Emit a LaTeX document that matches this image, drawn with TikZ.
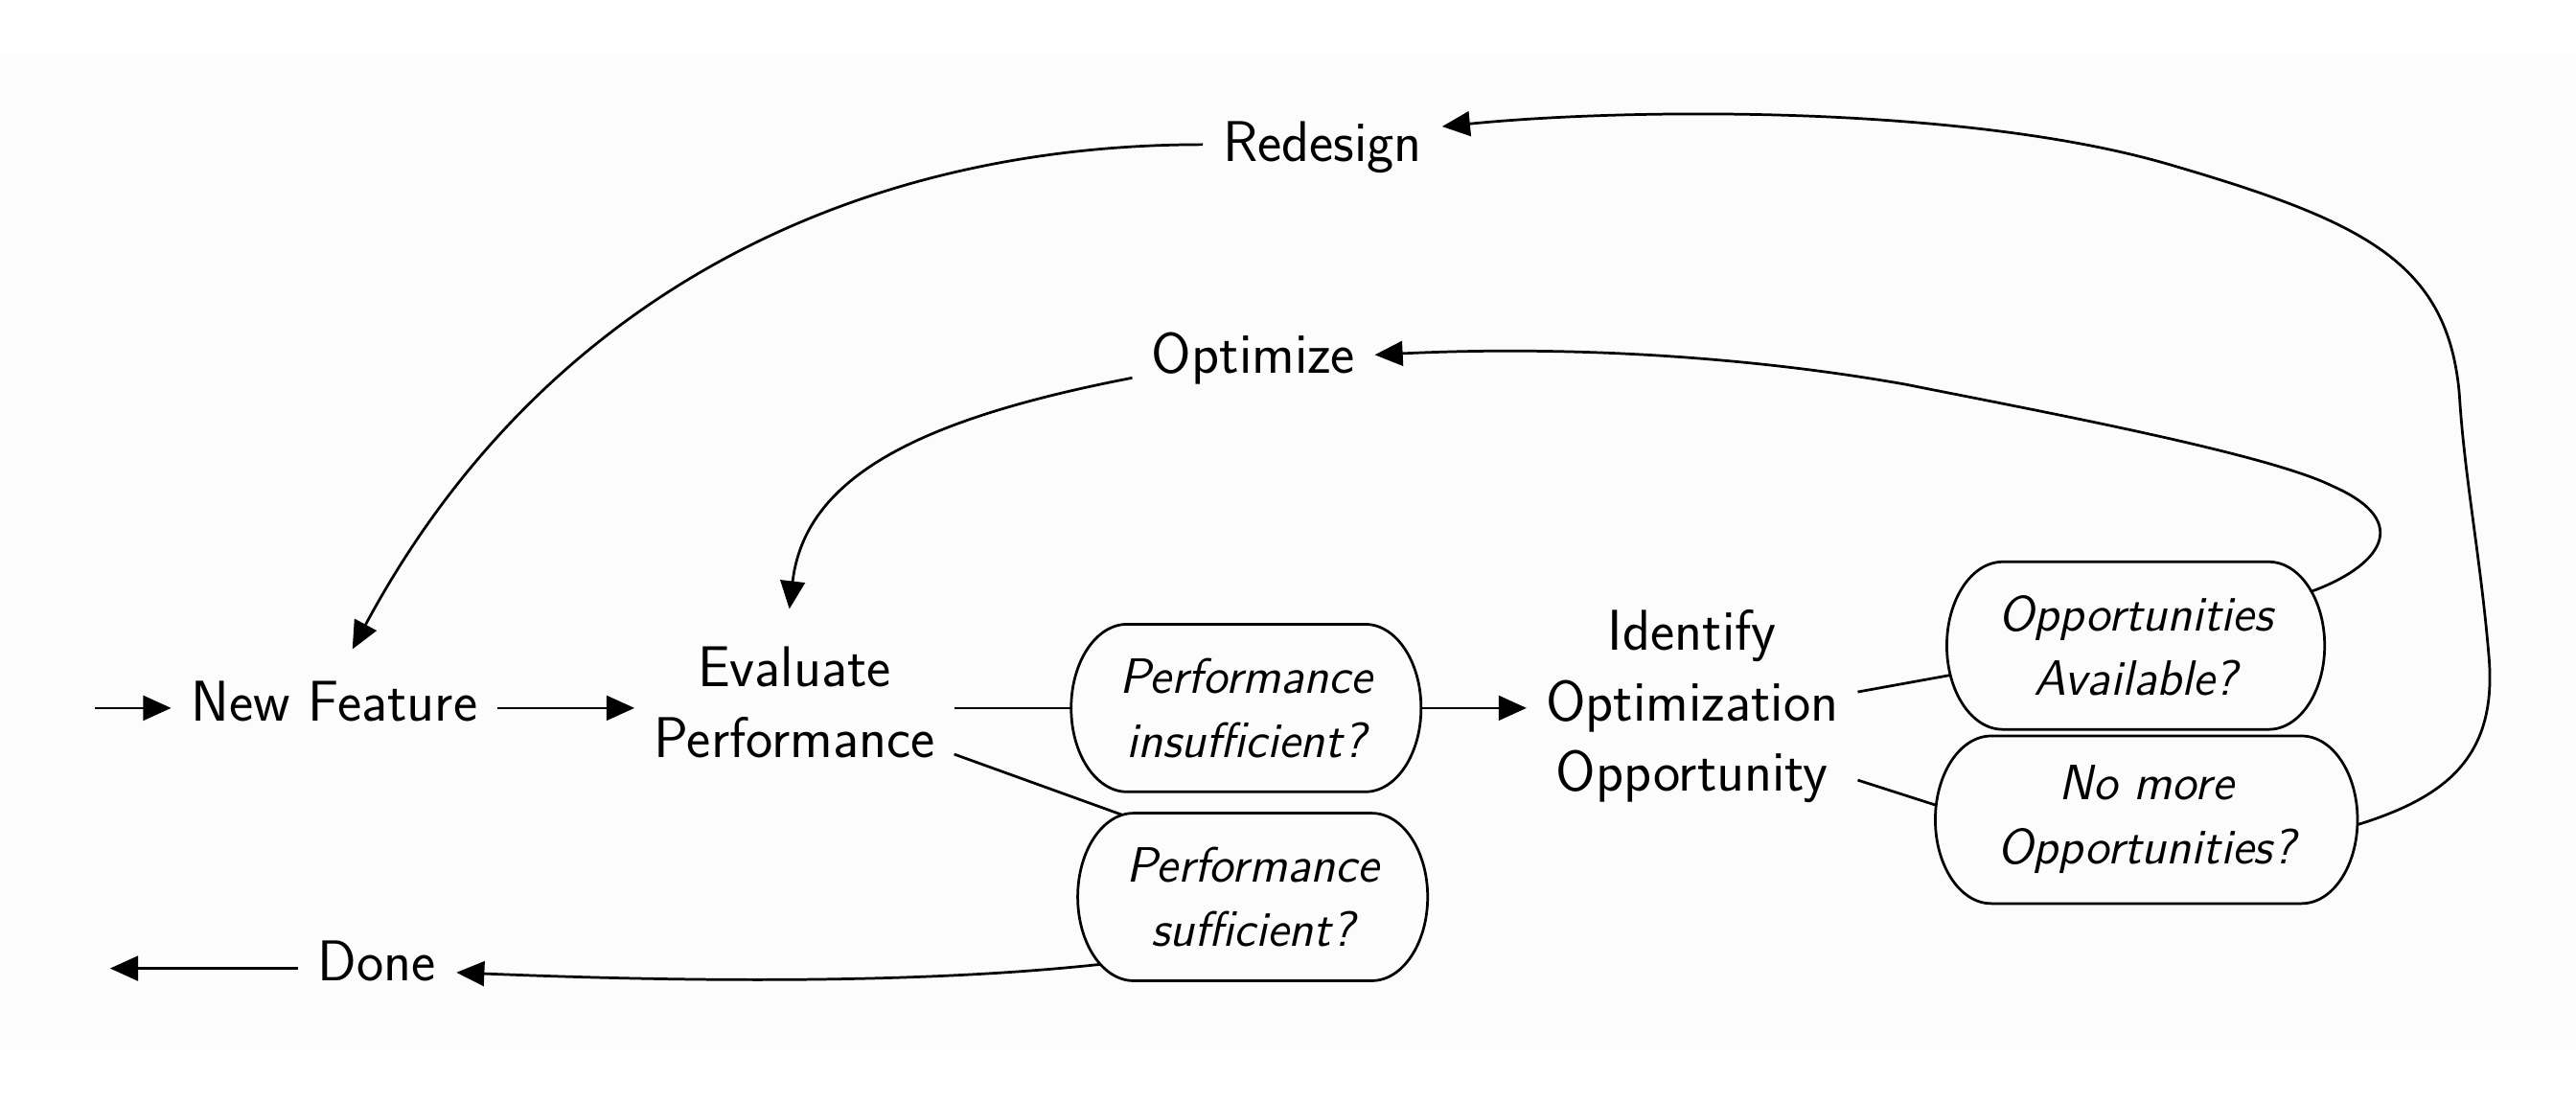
\documentclass[tikz,border=0pt]{standalone}
\usetikzlibrary{arrows.meta,calc}
\definecolor{bgc}{gray}{0.988}
\begin{document}
\begin{tikzpicture}[x=0.5pt,y=-0.5pt,
  line width=0.8pt,
  arr/.style={-{Triangle[length=8.5pt,width=7.5pt]}},
  ln/.style={-},
  txt/.style={font=\fontsize{17.5}{21.5}\selectfont\sffamily, align=center, inner sep=0pt},
  qbox/.style={font=\fontsize{15.1}{19.5}\selectfont\sffamily\itshape, align=center, inner sep=0pt, outer sep=0pt, minimum height=51pt},
  outline/.style={draw=black, line width=0.8pt, line join=round}
]
\useasboundingbox (0,0) rectangle (1568,670.8);
\fill[bgc] (0,32.7) rectangle (1568,639.4);

% nodes
\node[txt, minimum width=98.5pt, minimum height=32pt] (nf) at (203.5,427) {New Feature};
\node[txt, minimum width=96.5pt, minimum height=57pt] (ev) at (483.5,427.5) {Evaluate\\Performance};
\node[qbox, minimum width=106.5pt] (ins) at (758.5,431) {Performance\\insufficient?};
\node[qbox, minimum width=106.5pt] (suf) at (762.5,546) {Performance\\sufficient?};
\node[txt, minimum width=100pt, minimum height=65pt] (id) at (1030,430) {Identify\\Optimization\\Opportunity};
\node[qbox, minimum width=115pt] (oa) at (1300,393) {Opportunities\\Available?};
\node[qbox, minimum width=128.5pt] (nm) at (1306.5,499) {No more\\Opportunities?};
\node[txt, minimum width=73pt, minimum height=20pt] (opt) at (763,218) {Optimize};
\node[txt, minimum width=72pt, minimum height=20pt] (rd) at (805,89.5) {Redesign};
\node[txt, minimum width=47.5pt, minimum height=20pt] (done) at (229.5,585) {Done};
\coordinate (in) at (58,431);
\coordinate (out) at (67,589.5);

% box outlines
\foreach \n in {ins,suf,oa,nm}{
  \draw[outline] ([xshift=17pt]\n.north west) -- ([xshift=-17pt]\n.north east)
    arc[start angle=90,end angle=-90,x radius=17pt,y radius=25.5pt]
    -- ([xshift=17pt]\n.south west)
    arc[start angle=270,end angle=90,x radius=17pt,y radius=25.5pt] -- cycle;
}

% connectors
\draw[arr] (in) -- (in -| nf.west);
\draw[arr] (in -| nf.east) -- (in -| ev.west);
\draw[ln] (ins -| ev.east) -- (ins);
\draw[ln] (ev.-18) -- ($(suf.north west)+(27,1)$);
\draw[arr] (ins) -- (ins -| id.west);
\draw[ln] (id.5) -- ($(oa.west)+(2,18)$);
\draw[ln] (id.-24) -- ($(nm.west)+(0,-9)$);
\draw[arr] ($(oa.east)+(-8,-33)$) .. controls (1448,345) and (1470,318) .. (1420,296)
   .. controls (1380,276) and (1240,250) .. (1160,234)
   .. controls (1070,218) and (960,210) .. ($(opt.east)+(0,-2)$);
\draw[arr] ($(opt.west)+(0,12)$) .. controls (560,255) and (490,290) .. ($(ev.north)+(-3,1)$);
\draw[arr] ($(nm.east)+(0,3)$) .. controls (1490,485) and (1520,460) .. (1515,400)
   .. controls (1510,340) and (1500,290) .. (1497,240)
   .. controls (1490,160) and (1440,135) .. (1320,100)
   .. controls (1200,65) and (1000,65) .. ($(rd.east)+(0,-12.5)$);
\draw[arr] ($(rd.west)+(0,-1.5)$) .. controls (520,88) and (330,180) .. ($(nf.north)+(11,1)$);
\draw[arr] ($(suf.south west)+(14,-10)$) .. controls (550,600) and (400,597) .. ($(done.east)+(0,7)$);
\draw[arr] (out -| done.west) -- (out);
\end{tikzpicture}
\end{document}
